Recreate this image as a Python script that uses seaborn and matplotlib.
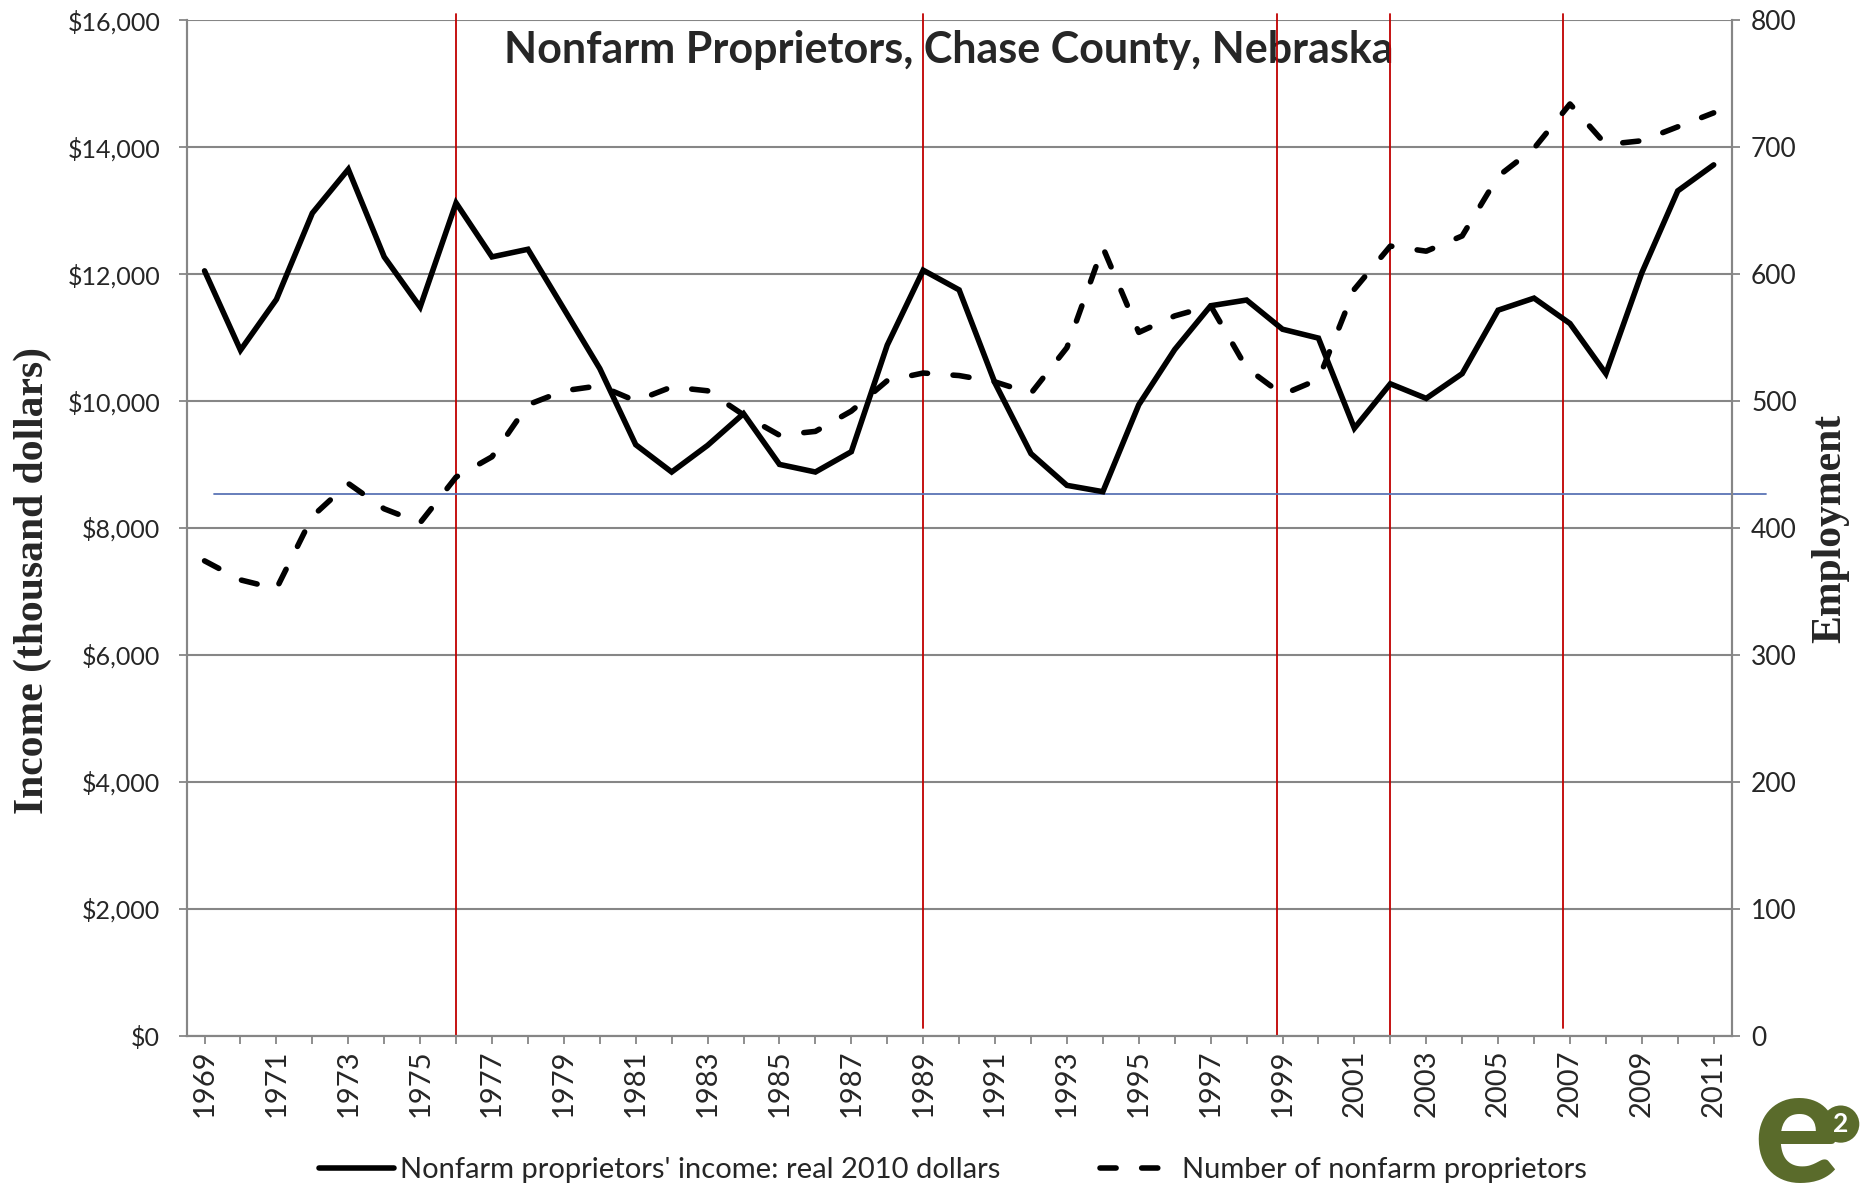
import matplotlib
matplotlib.use("Agg")
import matplotlib.pyplot as plt
from matplotlib.ticker import FuncFormatter
import seaborn as sns
import pandas as pd

# Chase County, Nebraska - nonfarm proprietors
years = list(range(1969, 2012))

# real 2010 dollars, thousands
income = [12050, 10800, 11600, 12960, 13650, 12270, 11480, 13120, 12270, 12390,
          11450, 10510, 9310, 8880, 9300, 9800, 9000, 8880, 9200, 10880,
          12060, 11750, 10280, 9170, 8670, 8570, 9940, 10810, 11500, 11590,
          11130, 10990, 9570, 10270, 10040, 10430, 11430, 11620, 11220, 10430,
          12020, 13310, 13720]

# number of nonfarm proprietors
proprietors = [374, 359, 352, 409, 435, 415, 404, 440, 456, 497,
               508, 512, 500, 511, 508, 489, 473, 476, 492, 516,
               522, 520, 515, 506, 542, 621, 554, 567, 575, 526,
               505, 517, 588, 622, 618, 630, 677, 699, 734, 702,
               705, 716, 727]

# vertical markers drawn on the original chart
marker_years = [1976, 1989, 1998.85, 2002, 2006.8]
marker_bottom = [0.0, 0.007, 0.0, 0.0, 0.007]

# horizontal reference line (income scale)
reference_income = 8530

title = "Nonfarm Proprietors, Chase County, Nebraska"
income_label = "Nonfarm proprietors' income: real 2010 dollars"
count_label = "Number of nonfarm proprietors"

GRID = "#868686"
OLIVE = "#5A6B2B"


def main():
    sns.set_theme(style="white")
    plt.rcParams["font.family"] = ["Lato", "DejaVu Sans"]

    df = pd.DataFrame({"year": years, "income": income, "proprietors": proprietors})

    fig = plt.figure(figsize=(18.64, 11.87), dpi=100)
    ax = fig.add_axes([0.1001, 0.1276, 0.8289, 0.8554])
    ax2 = ax.twinx()

    # income on the left axis, proprietor count on the right
    sns.lineplot(data=df, x="year", y="income", ax=ax, color="black",
                 lw=4.0, solid_joinstyle="miter", legend=False)
    line1 = ax.lines[-1]
    sns.lineplot(data=df, x="year", y="proprietors", ax=ax2, color="black",
                 lw=4.0, linestyle=(0, (2.9, 4.6)), dash_capstyle="round",
                 legend=False)
    line2 = ax2.lines[-1]

    for yr, b in zip(marker_years, marker_bottom):
        ax.axvline(yr, ymin=b, ymax=1.006, color="#C00000", lw=1.3,
                   clip_on=False, zorder=1)
    ax.axhline(reference_income, xmin=0.0177, xmax=1.022, color="#5B74B5",
               lw=1.3, clip_on=False, zorder=1)

    ax.set_xlim(1968.5, 2011.5)
    ax.set_ylim(0, 16000)
    ax2.set_ylim(0, 800)
    ax.set_yticks(range(0, 16001, 2000))
    ax2.set_yticks(range(0, 801, 100))
    ax.yaxis.set_major_formatter(FuncFormatter(lambda v, _: f"${v:,.0f}"))

    ax.set_xticks(years[::2])
    ax.set_xticks(years, minor=True)
    ax.set_xticklabels([str(y) for y in years[::2]], rotation=90)
    ax.set_xlabel("")
    ax.set_ylabel("")
    ax2.set_ylabel("")

    ax.yaxis.grid(True, color=GRID, lw=1.5)
    ax.xaxis.grid(False)
    ax.set_axisbelow(True)
    ax2.grid(False)

    for a in (ax, ax2):
        a.spines["top"].set_visible(False)
        for s in ("left", "right", "bottom"):
            a.spines[s].set_color(GRID)
            a.spines[s].set_linewidth(1.5)
    ax.tick_params(axis="x", which="both", bottom=True, direction="out",
                   length=6, width=1.3, color=GRID, labelsize=21, pad=4)
    ax.tick_params(axis="y", left=True, direction="out", length=6, width=1.3,
                   color=GRID, labelsize=18, pad=13)
    ax2.tick_params(axis="y", right=True, direction="out", length=6, width=1.3,
                    color=GRID, labelsize=19, pad=8)

    ax.text(0.493, 0.971, title, transform=ax.transAxes, ha="center",
            va="center", fontsize=31, fontweight="bold", zorder=0)

    fig.text(0.0177, 0.511, "Income (thousand dollars)", rotation=90,
             ha="center", va="center", fontsize=30, fontweight="bold",
             family="Liberation Serif")
    fig.text(0.982, 0.555, "Employment", rotation=90, ha="center",
             va="center", fontsize=30, fontweight="bold",
             family="Liberation Serif")

    fig.legend([line1, line2], [income_label, count_label], loc="center",
               bbox_to_anchor=(0.511, 0.0143), ncol=2, frameon=False,
               fontsize=21, handlelength=2.6, handletextpad=0.2,
               columnspacing=3.4)

    # e2 logo, bottom right corner
    fig.text(0.9635, 0.004, "e", fontsize=116, fontweight="black",
             color=OLIVE, ha="center", va="baseline")
    fig.text(0.9875, 0.053, "2", fontsize=19, fontweight="bold", color="white",
             ha="center", va="center",
             bbox=dict(boxstyle="circle,pad=0.25", fc=OLIVE, ec="none"))

    fig.savefig("out.png", dpi=100)
    print("saved out.png")


if __name__ == "__main__":
    main()
